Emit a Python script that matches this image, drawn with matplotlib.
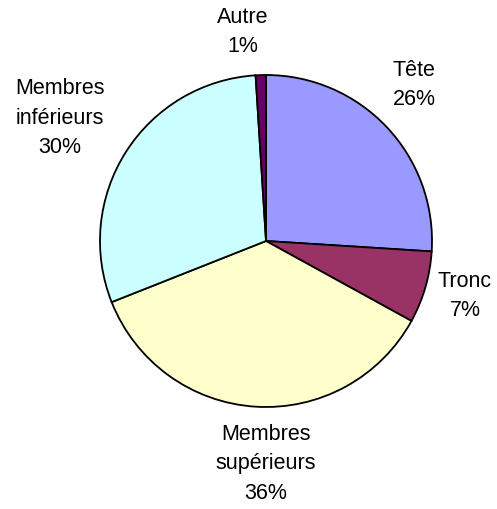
import matplotlib.pyplot as plt

labels = ["Tête", "Tronc", "Membres\nsupérieurs", "Membres\ninférieurs", "Autre"]
values = [26, 7, 36, 30, 1]
colors = ["#9999FF", "#993366", "#FFFFCC", "#CCFFFF", "#660066"]

W, H = 497, 509
fig = plt.figure(figsize=(W / 100, H / 100), dpi=100)
ax = fig.add_axes([0, 0, 1, 1])

# pie centre / radius in pixel units
cx, cy, r = 266, H - 241, 166
ax.pie(values, colors=colors, startangle=90, counterclock=False,
       center=(cx, cy), radius=r, frame=True,
       wedgeprops=dict(edgecolor="black", linewidth=1.3))
ax.set_aspect("equal")
ax.axis("off")
ax.set_xlim(0, W)
ax.set_ylim(0, H)

# label placement (pixel centres of each text block)
label_pos = [(414, 85), (465, 296), (266, 464), (60, 118), (243, 32)]
for lab, v, (px, py) in zip(labels, values, label_pos):
    ax.text(px, H - py, f"{lab}\n{v}%", ha="center", va="center",
            fontsize=15.5, family="Liberation Sans", linespacing=1.55)

fig.savefig("out.png", dpi=100)
